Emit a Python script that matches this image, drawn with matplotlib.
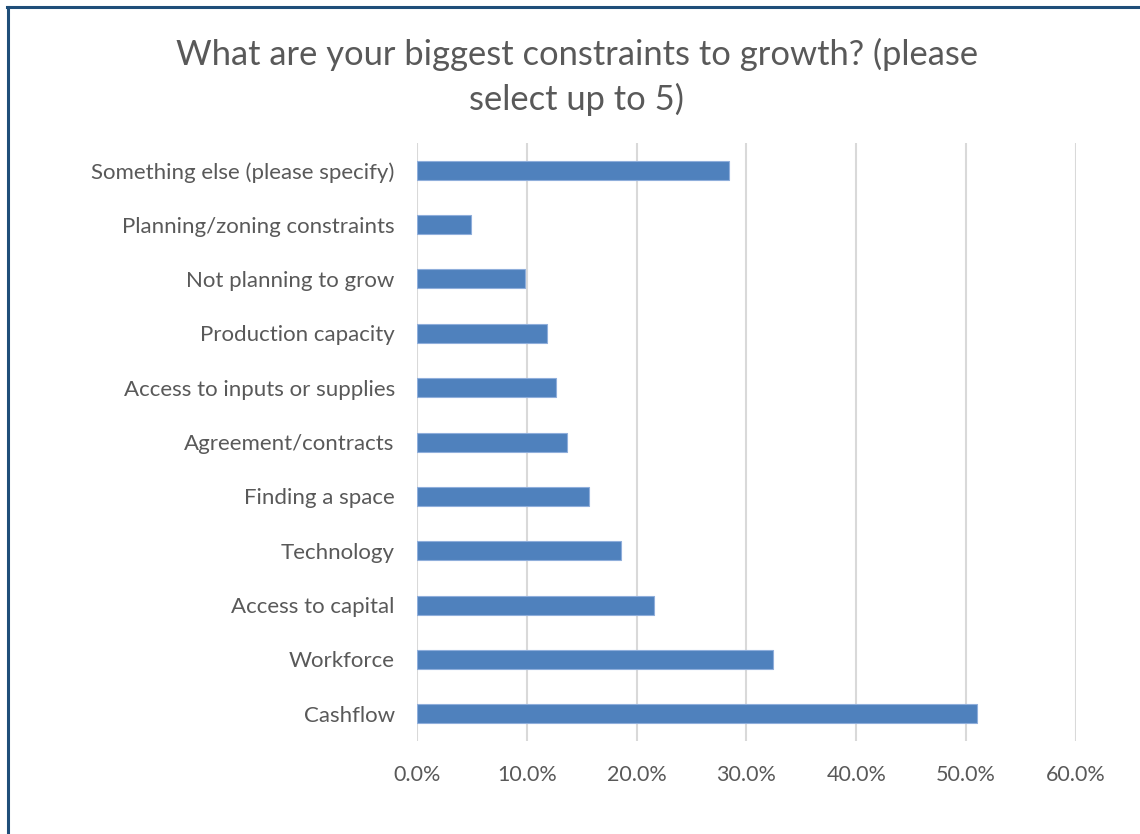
import matplotlib
matplotlib.use("Agg")
import matplotlib.pyplot as plt
from matplotlib.lines import Line2D
from matplotlib.ticker import PercentFormatter

categories = [
    "Cashflow",
    "Workforce",
    "Access to capital",
    "Technology",
    "Finding a space",
    "Agreement/contracts",
    "Access to inputs or supplies",
    "Production capacity",
    "Not planning to grow",
    "Planning/zoning constraints",
    "Something else (please specify)",
]
shares = [51.0, 32.4, 21.6, 18.6, 15.7, 13.7, 12.7, 11.8, 9.8, 4.9, 28.4]
xticks = [0, 10, 20, 30, 40, 50, 60]

title = "What are your biggest constraints to growth? (please\nselect up to 5)"

text_color = "#595959"
plt.rcParams["font.family"] = ["Lato", "DejaVu Sans"]

fig = plt.figure(figsize=(11.4, 8.34), dpi=100)
ax = fig.add_axes([0.3658, 0.1115, 0.578, 0.717])

ax.barh(categories, shares, height=0.35, color="#4F81BD",
        edgecolor="#8FAEDB", linewidth=0.8, zorder=3)

ax.set_xlim(0, 60)
ax.set_ylim(-0.5, len(categories) - 0.5)
ax.set_xticks(xticks)
ax.xaxis.set_major_formatter(PercentFormatter(decimals=1))
ax.grid(axis="x", color="#D9D9D9", linewidth=1.5, zorder=0)
for s in ax.spines.values():
    s.set_visible(False)
ax.tick_params(length=0, labelcolor=text_color)
ax.tick_params(axis="x", pad=17, labelsize=15.5)
ax.tick_params(axis="y", pad=16, labelsize=16)

fig.text(0.506, 0.955, title, ha="center", va="top", fontsize=24.8,
         color=text_color, linespacing=1.45)

# chart frame (only top and left edges show in the crop)
fig.add_artist(Line2D([0.0065, 1.0], [0.9916, 0.9916], color="#1F4E79", linewidth=2.2))
fig.add_artist(Line2D([0.0070, 0.0070], [0.0, 0.9916], color="#1F4E79", linewidth=2.2))

fig.savefig("out.png", dpi=100, facecolor="white")
